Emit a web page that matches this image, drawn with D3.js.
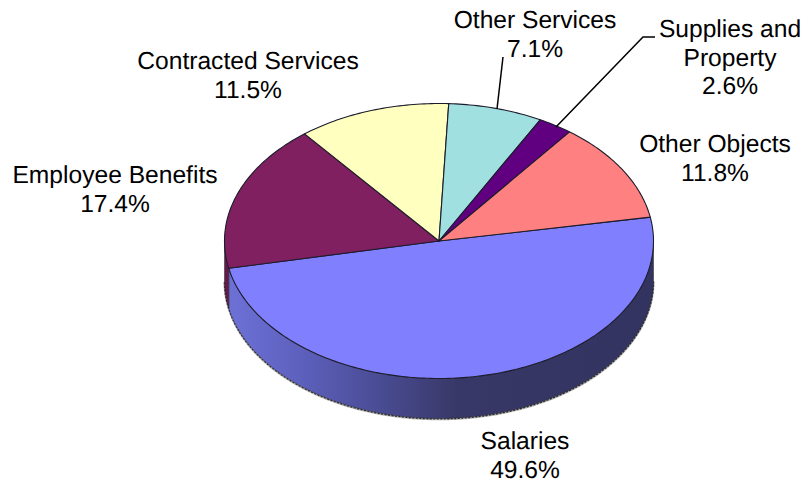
<!DOCTYPE html>
<html>
<head>
<meta charset="utf-8">
<script src="https://cdn.jsdelivr.net/npm/d3@7"></script>
<style>
html,body{margin:0;padding:0;background:#fff}
svg{display:block}
text{font-family:"Liberation Sans",Arial,sans-serif;font-size:24.6px;fill:#000;text-rendering:geometricPrecision}
</style>
</head>
<body>
<svg id="chart" width="806" height="483"></svg>
<script>
// Budget shares by expenditure object, clockwise from the first wedge
const categories = ["Salaries","Employee Benefits","Contracted Services","Other Services","Supplies and Property","Other Objects"];
const shares = [49.6,17.4,11.5,7.1,2.6,11.8];
const topColors = ["#8080ff","#802060","#ffffc0","#a0e0e0","#600080","#ff8080"];
const labelLines = [["Salaries"],["Employee Benefits"],["Contracted Services"],["Other Services"],["Supplies and","Property"],["Other Objects"]];
const labelAnchors = [[525,449],[115,183],[248,69],[535,28],[730,37],[715,152]];

const svg = d3.select("#chart");
const cx = 439, cy = 241, rx = 214.5, ry = 137.5, depth = 40;
const xs = d3.scaleLinear().domain([-1,1]).range([cx-rx,cx+rx]);
const ys = d3.scaleLinear().domain([-1,1]).range([cy-ry,cy+ry]);

const startDeg = 80;
const pie = d3.pie().value(d=>d).sort(null)
  .startAngle(startDeg*Math.PI/180).endAngle((startDeg+360)*Math.PI/180);
const arcs = pie(shares);

const rim = (a0,a1) => d3.range(0,1.0001,1/Math.max(8,Math.ceil(Math.abs(a1-a0)*60))).map(t=>a0+(a1-a0)*t);
const px = a => xs(Math.sin(a));
const py = a => ys(-Math.cos(a));
const line = d3.line();

// Horizontal shading across the wall of the largest wedge
const defs = svg.append("defs");
const grad = defs.append("linearGradient").attr("id","wall")
  .attr("gradientUnits","userSpaceOnUse").attr("x1",cx-rx).attr("x2",cx+rx).attr("y1",0).attr("y2",0);
[[0,"#6e72d8"],[0.18,"#5d60bc"],[0.36,"#4a4c94"],[0.54,"#383868"],[1,"#333360"]]
  .forEach(([o,c])=>grad.append("stop").attr("offset",o).attr("stop-color",c));

// Speckled contact edge under the wall
const lowEdge = rim(Math.PI/2,Math.PI*1.5).map(a=>[px(a),py(a)+depth]);
const contact = svg.append("g").attr("fill","none");
contact.append("path").attr("d",line(lowEdge)).attr("stroke","#b5b5b5").attr("stroke-width",2).attr("transform","translate(0,0.8)");
contact.append("path").attr("d",line(lowEdge)).attr("stroke","#333").attr("stroke-width",1.4).attr("stroke-dasharray","2 1.5").attr("transform","translate(0,0.4)");

// Visible wall: the front half of the rim, split at wedge boundaries
const frontA = Math.PI/2, frontB = Math.PI*1.5;
arcs.forEach((d,i)=>{
  const norm = a => { let v=a; while(v>=Math.PI*2) v-=Math.PI*2; return v; };
  const a0 = Math.max(norm(d.startAngle),frontA);
  let a1 = norm(d.startAngle)+(d.endAngle-d.startAngle);
  a1 = Math.min(a1,frontB);
  if(a1<=a0) return;
  const pts = rim(a0,a1);
  const ring = pts.map(a=>[px(a),py(a)]).concat(pts.slice().reverse().map(a=>[px(a),py(a)+depth]));
  svg.append("path").attr("d",line(ring)+"Z")
    .attr("fill", i===0 ? "url(#wall)" : d3.color(topColors[i]).darker(0.7))
    .attr("stroke","#222").attr("stroke-width",0.5);
});

// Top face
svg.selectAll("path.top").data(arcs).join("path").attr("class","top")
  .attr("d",d=>line([[xs(0),ys(0)]].concat(rim(d.startAngle,d.endAngle).map(a=>[px(a),py(a)])))+"Z")
  .attr("fill",(d,i)=>topColors[i])
  .attr("stroke","#1c1c2c").attr("stroke-width",1.1).attr("stroke-linejoin","round");

// Leader lines for the two narrow wedges
const leaders = [[[497,109],[503,57]],[[556,127],[643,37],[655,37]]];
svg.selectAll("path.leader").data(leaders).join("path").attr("class","leader")
  .attr("d",d=>line(d)).attr("fill","none").attr("stroke","#000").attr("stroke-width",1.5);

// Labels: name lines followed by the percentage
const lineGap = 28.5;
labelLines.forEach((lines,i)=>{
  const t = svg.append("text").attr("text-anchor","middle");
  const all = lines.concat(d3.format(".1f")(shares[i])+"%");
  all.forEach((s,j)=>t.append("tspan").attr("x",labelAnchors[i][0]).attr("y",labelAnchors[i][1]+j*lineGap).text(s));
});
</script>
</body>
</html>
